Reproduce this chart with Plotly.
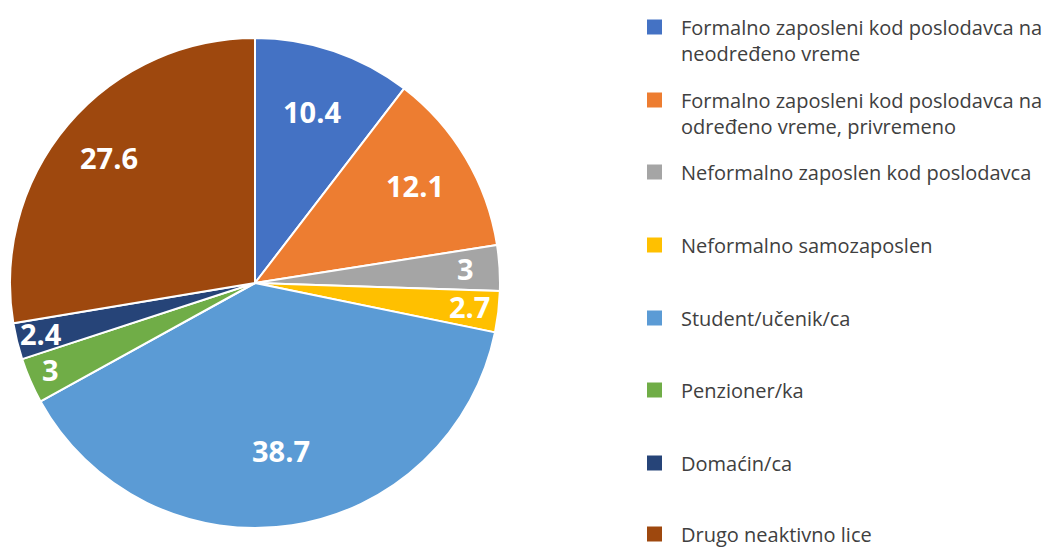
import math
import plotly.graph_objects as go

categories = [
    "Formalno zaposleni kod poslodavca na<br>neodređeno vreme",
    "Formalno zaposleni kod poslodavca na<br>određeno vreme, privremeno",
    "Neformalno zaposlen kod poslodavca",
    "Neformalno samozaposlen",
    "Student/učenik/ca",
    "Penzioner/ka",
    "Domaćin/ca",
    "Drugo neaktivno lice",
]
values = [10.4, 12.1, 3, 2.7, 38.7, 3, 2.4, 27.6]
colors = ["#4472C4", "#ED7D31", "#A5A5A5", "#FFC000", "#5B9BD5", "#70AD47", "#264478", "#9E480E"]

W, H = 1053, 548
# pie geometry in pixels
CX, CY, R = 255, 283, 245
label_r = [0.73, 0.76, 0.86, 0.88, 0.70, 0.91, 0.90, 0.78]

fig = go.Figure(go.Pie(
    labels=categories,
    values=values,
    textinfo="none",
    marker=dict(colors=colors, line=dict(color="white", width=2)),
    sort=False,
    direction="clockwise",
    rotation=0,
    showlegend=False,
    domain=dict(x=[(CX - R) / W, (CX + R) / W], y=[1 - (CY + R) / H, 1 - (CY - R) / H]),
    hoverinfo="label+value",
))

# data labels, placed at the middle angle of each slice
total = sum(values)
cum = 0.0
for v, fr in zip(values, label_r):
    mid = (cum + v / 2) / total * 2 * math.pi
    cum += v
    px = CX + fr * R * math.sin(mid)
    py = CY - fr * R * math.cos(mid)
    fig.add_annotation(x=px / W, y=1 - (py - 2) / H, xref="paper", yref="paper",
                       text=f"<b>{v:g}</b>", showarrow=False,
                       xanchor="center", yanchor="middle",
                       font=dict(family="Open Sans", size=29, color="white"))

legend_y = [27, 100, 172, 245, 318, 390, 463, 534]
for cat, col, yy in zip(categories, colors, legend_y):
    fig.add_shape(type="rect", xref="paper", yref="paper",
                  x0=647 / W, x1=662 / W, y0=1 - (yy + 7.5) / H, y1=1 - (yy - 7.5) / H,
                  fillcolor=col, line=dict(width=0))
    fig.add_annotation(x=679 / W, y=1 - (yy - 15) / H, xref="paper", yref="paper",
                       text=cat, showarrow=False, xanchor="left", yanchor="top",
                       align="left", font=dict(family="Open Sans", size=20, color="#404040"))

fig.update_layout(
    width=W, height=H,
    margin=dict(l=0, r=0, t=0, b=0),
    paper_bgcolor="white", plot_bgcolor="white",
)
fig.write_html("out.html", config={"displayModeBar": False},
               post_script="document.body.style.margin='0px';")
